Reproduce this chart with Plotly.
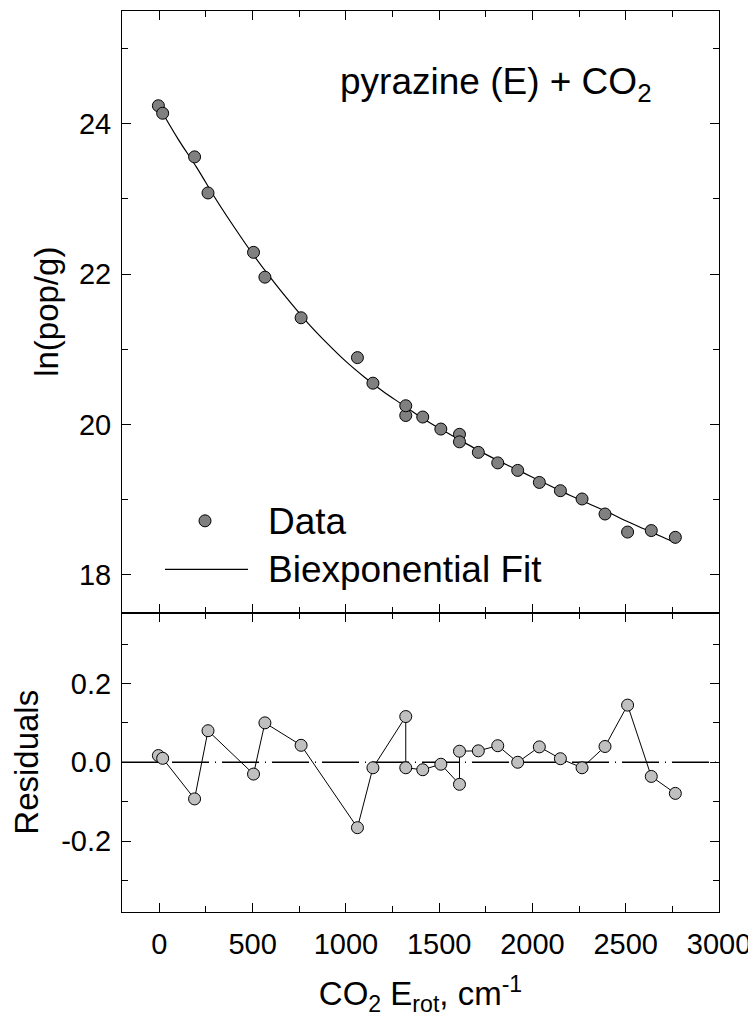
import plotly.graph_objects as go
from plotly.subplots import make_subplots

# CO2 rotational energy of each measured state (cm-1)
e_rot = [-5, 18, 189, 261, 505, 566, 760, 1062, 1145, 1321, 1321, 1412, 1509,
         1609, 1609, 1710, 1814, 1921, 2037, 2150, 2266, 2389, 2510, 2637, 2766]
# ln(pop/g)
ln_pop = [24.24, 24.14, 23.56, 23.08, 22.29, 21.96, 21.42, 20.89, 20.55, 20.12, 20.25, 20.10, 19.94,
          19.87, 19.77, 19.63, 19.49, 19.39, 19.23, 19.12, 19.01, 18.81, 18.57, 18.59, 18.50]
# residuals (same order as above)
residuals = [0.017, 0.010, -0.093, 0.080, -0.030, 0.100, 0.043, -0.166, -0.014, 0.116, -0.014, -0.019, -0.005,
             -0.056, 0.028, 0.029, 0.042, 0.000, 0.039, 0.009, -0.014, 0.040, 0.145, -0.036, -0.079]

# biexponential fit curve
fit_x = [-5, 100, 200, 300, 400, 500, 600, 700, 800, 900, 1000, 1100, 1200, 1300, 1400,
         1500, 1600, 1700, 1800, 1900, 2000, 2100, 2200, 2300, 2400, 2500, 2600, 2700, 2770]
fit_y = [24.24, 23.80, 23.42, 23.01, 22.63, 22.27, 21.94, 21.63, 21.34, 21.08, 20.84, 20.63, 20.44, 20.27, 20.10,
         19.95, 19.81, 19.67, 19.54, 19.42, 19.30, 19.18, 19.06, 18.95, 18.84, 18.72, 18.61, 18.50, 18.42]

font_family = "Liberation Sans, Arial, sans-serif"

fig = make_subplots(rows=2, cols=1, shared_xaxes=True, vertical_spacing=0,
                    row_heights=[0.6676, 0.3324])

# top panel: data points and fit
fig.add_trace(go.Scatter(x=fit_x, y=fit_y, mode="lines", line_shape="spline",
                         line=dict(color="black", width=1.2), name="Biexponential Fit"),
              row=1, col=1)
fig.add_trace(go.Scatter(x=e_rot, y=ln_pop, mode="markers",
                         marker=dict(size=12, color="#808080", line=dict(color="black", width=1)),
                         name="Data"),
              row=1, col=1)

# bottom panel: residuals joined by a thin line
fig.add_trace(go.Scatter(x=e_rot, y=residuals, mode="lines+markers",
                         line=dict(color="black", width=1),
                         marker=dict(size=12, color="#c0c0c0", line=dict(color="black", width=1)),
                         name="Residuals"),
              row=2, col=1)
# dashed zero line behind the residuals (added after the trace so the subplot is not empty)
fig.add_hline(y=0, row=2, col=1, layer="below",
              line=dict(color="black", width=1.6, dash="37px,6px,1px,6px"))

axis_style = dict(showline=True, linecolor="black", linewidth=1, mirror="ticks",
                  ticks="inside", ticklen=9, tickwidth=1, tickcolor="black",
                  showgrid=False, zeroline=False, automargin=False,
                  tickfont=dict(family=font_family, size=29, color="black"))

fig.update_xaxes(range=[-200, 3000], tickmode="linear", tick0=0, dtick=500,
                 minor=dict(dtick=250, tick0=0, ticks="inside", ticklen=6, tickcolor="black"),
                 ticklabelstandoff=6, **axis_style)
fig.update_xaxes(showticklabels=False, row=1, col=1)
fig.update_xaxes(title=dict(text="CO<sub>2</sub> E<sub>rot</sub>, cm<sup>-1</sup>",
                            font=dict(family=font_family, size=33, color="black"), standoff=23),
                 row=2, col=1)

fig.update_yaxes(range=[17.5, 25.5], tickmode="array", tickvals=[18, 20, 22, 24],
                 minor=dict(tickmode="array", tickvals=[19, 21, 23, 25],
                            ticks="inside", ticklen=6, tickcolor="black"),
                 title=dict(text="ln(pop/g)", font=dict(family=font_family, size=33, color="black"),
                            standoff=10),
                 ticklabelstandoff=4, row=1, col=1, **axis_style)
fig.update_yaxes(range=[-0.38, 0.38], tickmode="array", tickvals=[-0.2, 0, 0.2],
                 ticktext=["-0.2", "0.0", "0.2"],
                 minor=dict(tickmode="array", tickvals=[-0.3, -0.1, 0.1, 0.3],
                            ticks="inside", ticklen=6, tickcolor="black"),
                 title=dict(text="Residuals", font=dict(family=font_family, size=33, color="black"),
                            standoff=14),
                 ticklabelstandoff=4, row=2, col=1, **axis_style)

# page geometry of the plotting area (page pixels), used to place the in-plot labels
left, right, top, bottom = 122, 719, 11, 912.3


def px_x(p):
    return (p - left) / (right - left)


def px_y(p):
    return (bottom - p) / (bottom - top)


label_font = dict(family=font_family, size=37, color="black")

fig.add_annotation(xref="paper", yref="paper", x=px_x(338), y=px_y(84),
                   xanchor="left", yanchor="middle", showarrow=False,
                   text="pyrazine (E) + CO<sub>2</sub>", font=label_font)

# hand-drawn style legend inside the top panel
fig.add_shape(type="circle", xref="paper", yref="paper",
              x0=px_x(199), x1=px_x(211), y0=px_y(527), y1=px_y(515),
              fillcolor="#808080", line=dict(color="black", width=1))
fig.add_shape(type="line", xref="paper", yref="paper",
              x0=px_x(165), x1=px_x(248), y0=px_y(569.5), y1=px_y(569.5),
              line=dict(color="black", width=1.2))
fig.add_annotation(xref="paper", yref="paper", x=px_x(266), y=px_y(522),
                   xanchor="left", yanchor="middle", showarrow=False,
                   text="Data", font=label_font)
fig.add_annotation(xref="paper", yref="paper", x=px_x(266), y=px_y(570),
                   xanchor="left", yanchor="middle", showarrow=False,
                   text="Biexponential Fit", font=label_font)

# the page body keeps its default 8px margin, so the figure is sized and
# offset to put the plotting area at the same page pixels as the reference
fig.update_layout(width=748, height=1012,
                  margin=dict(l=114, r=37, t=3, b=107.7),
                  showlegend=False,
                  plot_bgcolor="rgba(0,0,0,0)", paper_bgcolor="white",
                  font=dict(family=font_family, color="black"))

fig.write_html("out.html")
